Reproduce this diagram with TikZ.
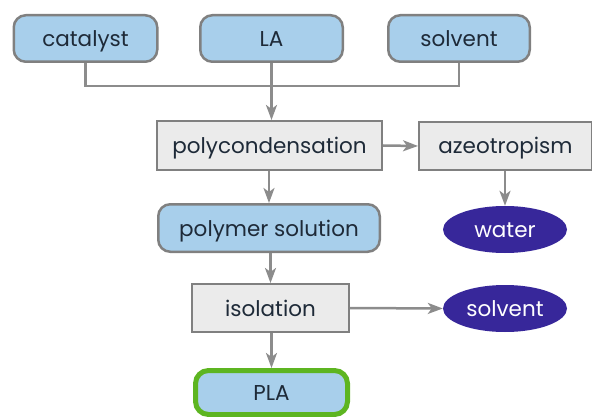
\documentclass[tikz,border=0pt]{standalone}
\usepackage{fontspec}
\setmainfont{Poppins}
\usetikzlibrary{shapes.geometric,arrows.meta}
\definecolor{bluefill}{HTML}{A8CFEB}
\definecolor{bordergray}{HTML}{808080}
\definecolor{boxgray}{HTML}{EBEBEB}
\definecolor{linegray}{HTML}{8C8C8C}
\definecolor{indigo}{HTML}{37279A}
\definecolor{greenb}{HTML}{5DB521}
\definecolor{txt}{HTML}{1E2A38}
\tikzset{
  x=1pt, y=-1pt,
  base/.style={font=\fontsize{21.5}{24}\selectfont, inner sep=0pt, text=txt, text height=16pt, text depth=0pt},
  bluebox/.style={base, draw=bordergray, line width=2.5pt, fill=bluefill, rounded corners=12pt, minimum height=46.5pt},
  graybox/.style={base, draw=bordergray, line width=2pt, fill=boxgray, minimum height=48pt},
  ellip/.style={base, ellipse, fill=indigo, text=white, minimum width=124pt, minimum height=47pt},
  finalbox/.style={base, draw=greenb, line width=5pt, fill=bluefill, rounded corners=13pt, minimum height=44pt},
  conn/.style={draw=linegray, line width=2.5pt},
  arr/.style={conn, -{Stealth[length=15pt,width=11pt,inset=4pt]}},
}
\begin{document}
\begin{tikzpicture}
\useasboundingbox (0,0) rectangle (592,417);
\clip (0,0) rectangle (592,417);
\node[bluebox, minimum width=143.5pt] (cat) at (85.5,38.5) {catalyst};
\node[bluebox, minimum width=142.5pt] (la) at (271.5,38.5) {LA};
\node[bluebox, minimum width=141.5pt] (solt) at (459,38.5) {solvent};
\node[graybox, minimum width=225pt, minimum height=49pt] (poly) at (269.5,145.5) {polycondensation};
\node[graybox, minimum width=173pt] (azeo) at (505.5,146) {azeotropism};
\node[bluebox, minimum width=221.5pt, minimum height=47.5pt] (pol) at (269,228) {polymer solution};
\node[ellip] (water) at (505,229.5) {water};
\node[graybox, minimum width=157pt] (iso) at (270.5,308) {isolation};
\node[ellip] (solv) at (505,308.5) {solvent};
\node[finalbox, minimum width=152pt] (pla) at (271.5,392.5) {PLA};
\coordinate (j) at (271.5,86);
\draw[conn] (cat.south) |- (j) -| (solt.south);
\draw[arr] (la.south) -- (la.south |- poly.north);
\draw[arr] (poly.east) -- (azeo.west);
\draw[arr] (poly.south -| pol.north) -- (pol.north);
\draw[arr] (azeo.south -| water.north) -- (water.north);
\draw[arr] (pol.south -| iso.north) -- (iso.north);
\draw[arr] (iso.east) -- (solv.west);
\draw[arr] (iso.south -| pla.north) -- (pla.north);
\end{tikzpicture}
\end{document}
